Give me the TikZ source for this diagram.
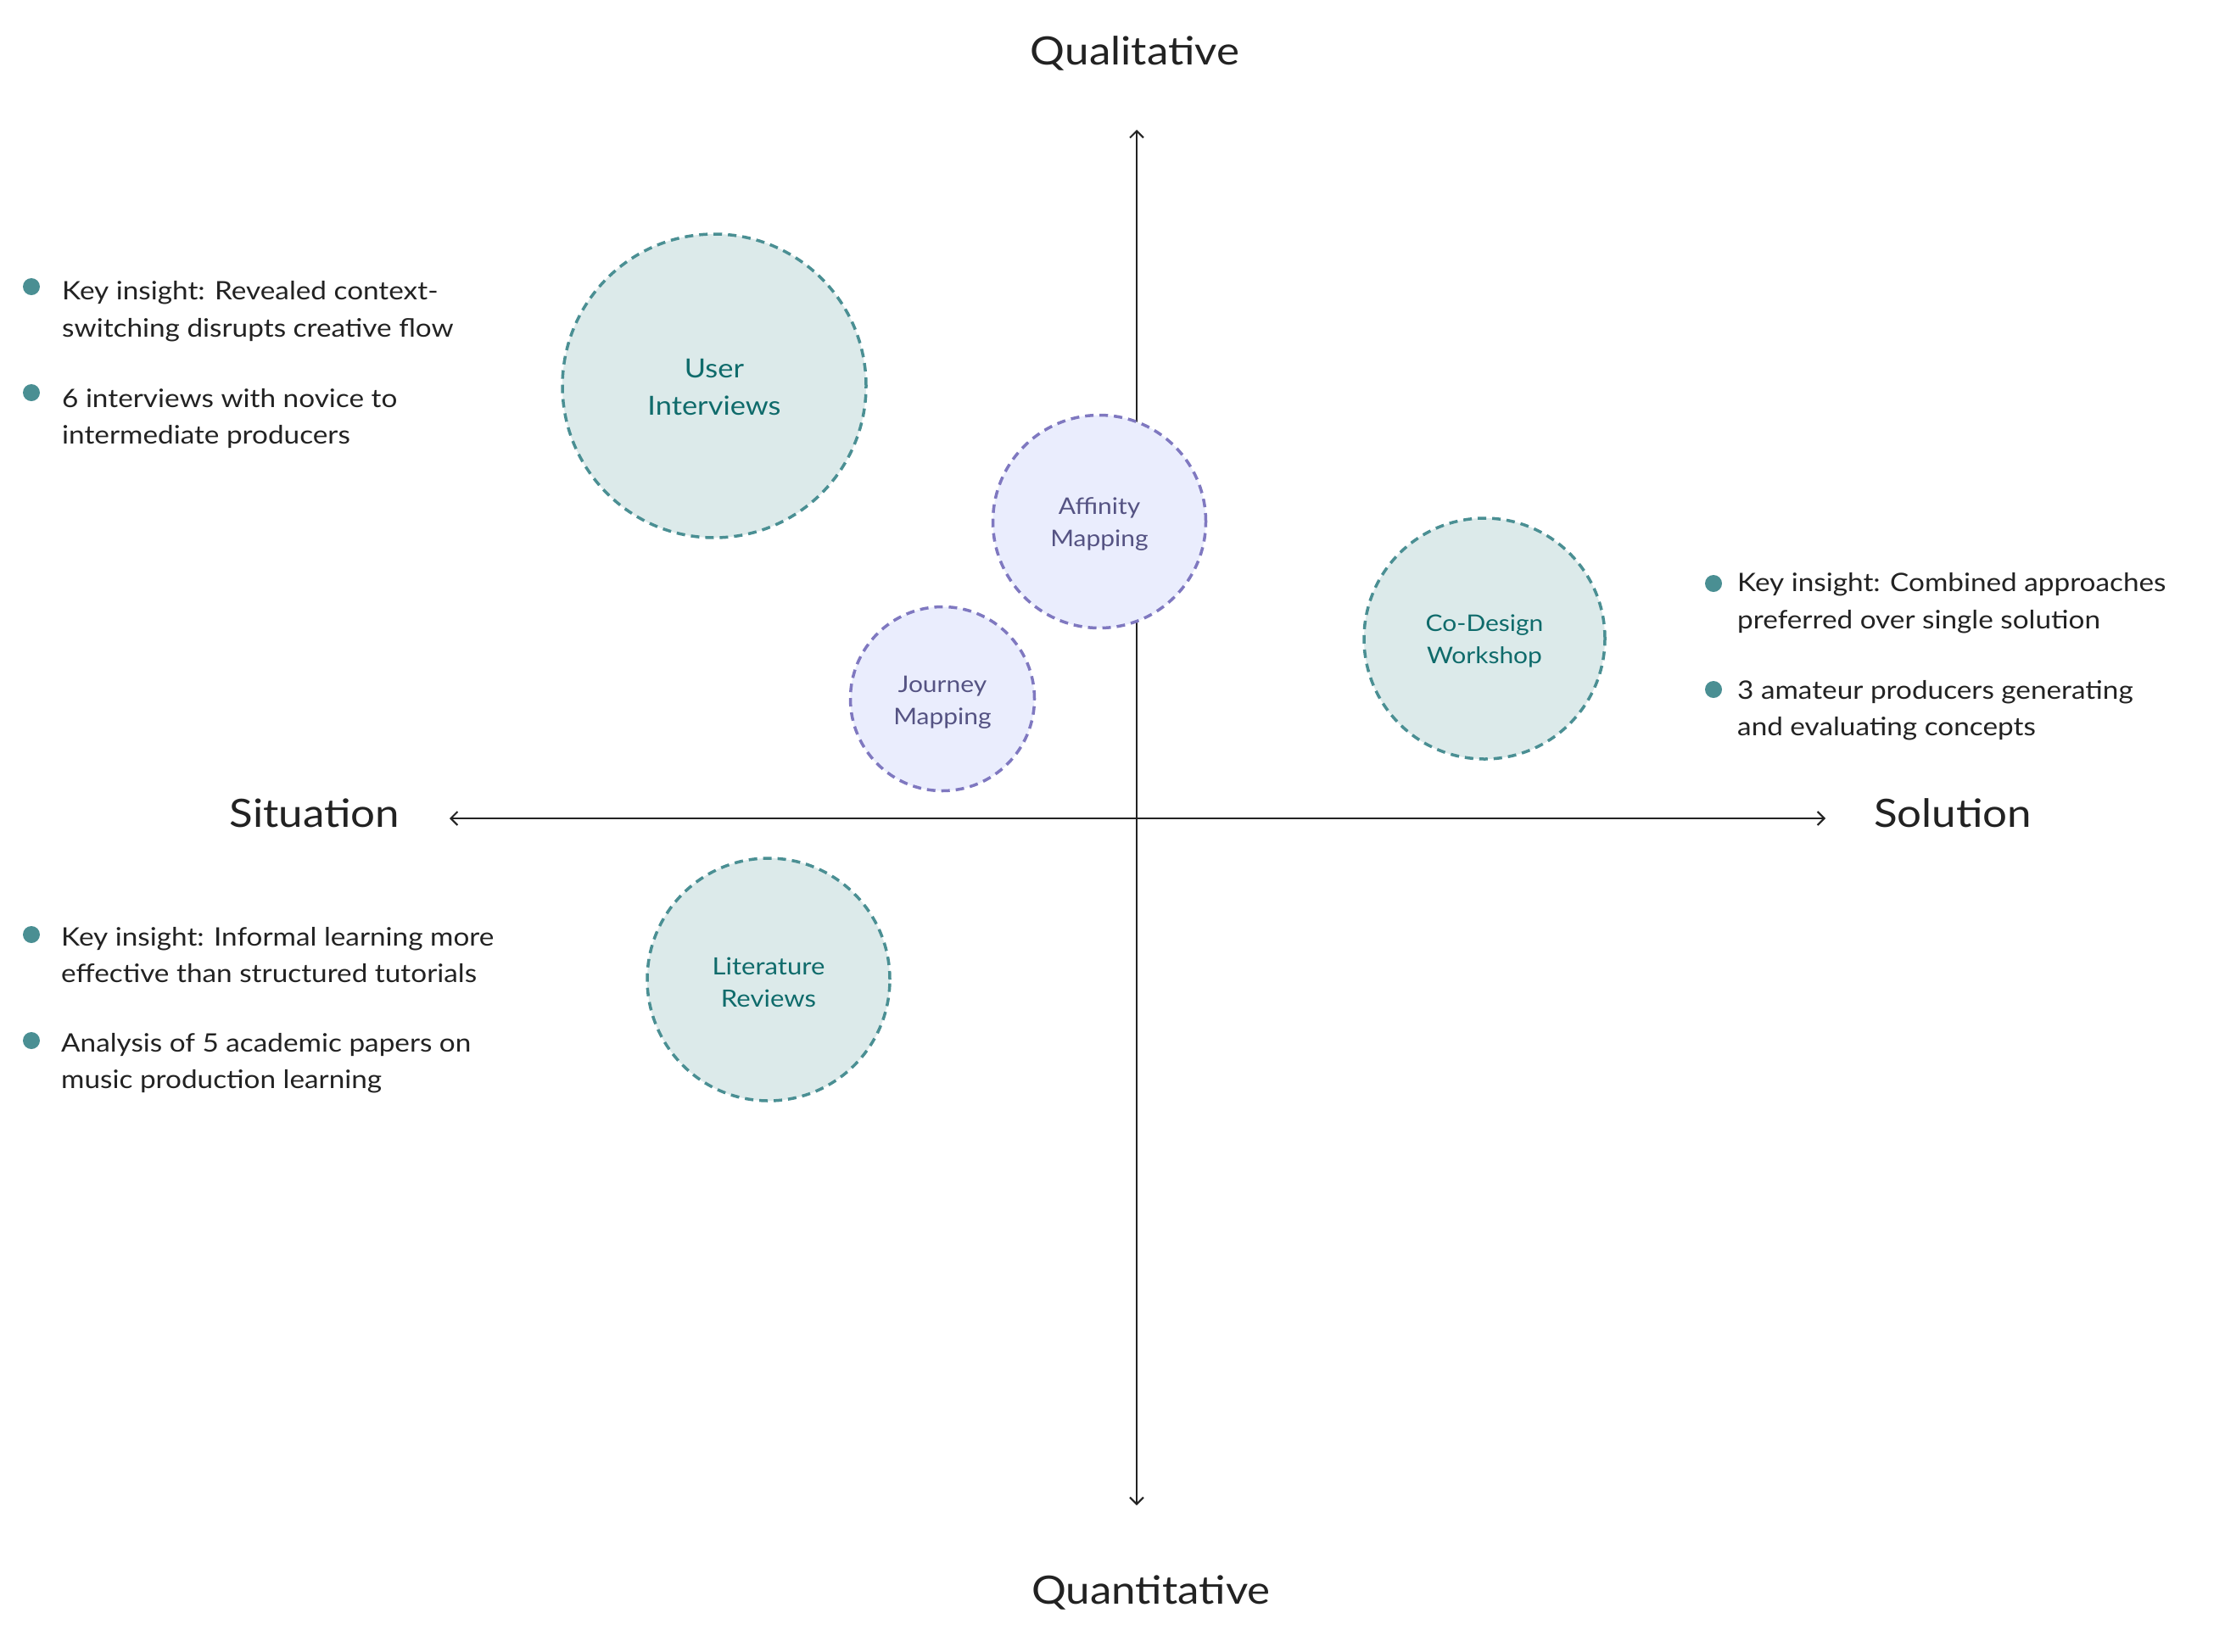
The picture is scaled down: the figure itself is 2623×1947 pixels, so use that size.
\documentclass[tikz,border=0pt]{standalone}
\usepackage{fontspec}
\setmainfont{Lato}[FakeStretch=1.11]
\usetikzlibrary{arrows.meta}
\definecolor{tealfill}{HTML}{DCEAEA}
\definecolor{tealline}{HTML}{4A8F93}
\definecolor{tealtext}{HTML}{0F6B6B}
\definecolor{purfill}{HTML}{EAEDFD}
\definecolor{purline}{HTML}{7F78C0}
\definecolor{purtext}{HTML}{555383}
\definecolor{bodytext}{HTML}{222222}
\begin{document}
\begin{tikzpicture}[x=1pt,y=-1pt,
  tip/.tip={Straight Barb[length=8pt,width=16pt,line width=2pt]},
  axisline/.style={line width=2pt, draw=bodytext, tip-tip},
  axislabel/.style={anchor=base, inner sep=0pt, text=bodytext, font=\fontsize{46}{52}\selectfont},
  tealcirc/.style={circle, inner sep=0pt, fill=tealfill, draw=tealline, line width=3.5pt, dash pattern=on 10pt off 7pt},
  purcirc/.style={circle, inner sep=0pt, fill=purfill, draw=purline, line width=3.5pt, dash pattern=on 10pt off 7pt},
  tealtxt/.style={inner sep=0pt, text=tealtext, align=center},
  purtxt/.style={inner sep=0pt, text=purtext, align=center},
  bodyline/.style={anchor=base west, inner sep=0pt, text=bodytext, font=\fontsize{30}{43}\selectfont},
  bulletdot/.style={circle, fill=tealline, inner sep=0pt, minimum size=20pt}
]
\useasboundingbox (0,0) rectangle (2623,1947);
\fill[white] (0,0) rectangle (2623,1947);

% axes
\coordinate (qtop) at (1340,153);
\coordinate (qbot) at (1340,1775);
\coordinate (sleft) at (530,965);
\coordinate (sright) at (2152,965);
\draw[axisline] (qbot) -- (qtop);
\draw[axisline] (sright) -- (sleft);

\node[axislabel] (lqual) at (1338,76) {Qualitative};
\node[axislabel] (lquan) at (1357,1891) {Quantitative};
\node[axislabel] (lsit) at (371,975) {Situation};
\node[axislabel] (lsol) at (2302,975) {Solution};

% circles
\node[tealcirc, minimum size=358pt] (ui) at (842,455) {};
\node[tealtxt, font=\fontsize{31}{44}\selectfont, yshift=-1.5pt] (uit) at (ui) {User\\Interviews};
\node[purcirc, minimum size=251pt] (am) at (1296,615) {};
\node[purtxt, font=\fontsize{27}{38}\selectfont, yshift=-3pt] (amt) at (am) {Affinity\\Mapping};
\node[purcirc, minimum size=217pt] (jm) at (1111,824) {};
\node[purtxt, font=\fontsize{27}{38}\selectfont, yshift=-4pt] (jmt) at (jm) {Journey\\Mapping};
\node[tealcirc, minimum size=284pt] (cd) at (1750,753) {};
\node[tealtxt, font=\fontsize{27}{38}\selectfont, yshift=-3pt] (cdt) at (cd) {Co-Design\\Workshop};
\node[tealcirc, minimum size=286pt] (lr) at (906,1155) {};
\node[tealtxt, font=\fontsize{28}{38}\selectfont, yshift=-3pt] (lrt) at (lr) {Literature\\Reviews};

% top-left notes
\node[bulletdot] (b1) at (37,338) {};
\node[bodyline] (t1a) at (73,353) {Key insight: Revealed context-};
\node[bodyline] (t1b) at (73,397) {switching disrupts creative flow};
\node[bulletdot] (b2) at (37,463) {};
\node[bodyline] (t2a) at (73,480) {6 interviews with novice to};
\node[bodyline] (t2b) at (73,523) {intermediate producers};

% bottom-left notes
\node[bulletdot] (b3) at (37,1102) {};
\node[bodyline] (t3a) at (72,1115) {Key insight: Informal learning more};
\node[bodyline] (t3b) at (72,1158) {effective than structured tutorials};
\node[bulletdot] (b4) at (37,1227) {};
\node[bodyline] (t4a) at (72,1240) {Analysis of 5 academic papers on};
\node[bodyline] (t4b) at (72,1283) {music production learning};

% right notes
\node[bulletdot] (b5) at (2020,688) {};
\node[bodyline] (t5a) at (2048,697) {Key insight: Combined approaches};
\node[bodyline] (t5b) at (2048,741) {preferred over single solution};
\node[bulletdot] (b6) at (2020,813) {};
\node[bodyline] (t6a) at (2048,824) {3 amateur producers generating};
\node[bodyline] (t6b) at (2048,867) {and evaluating concepts};
\end{tikzpicture}
\end{document}
